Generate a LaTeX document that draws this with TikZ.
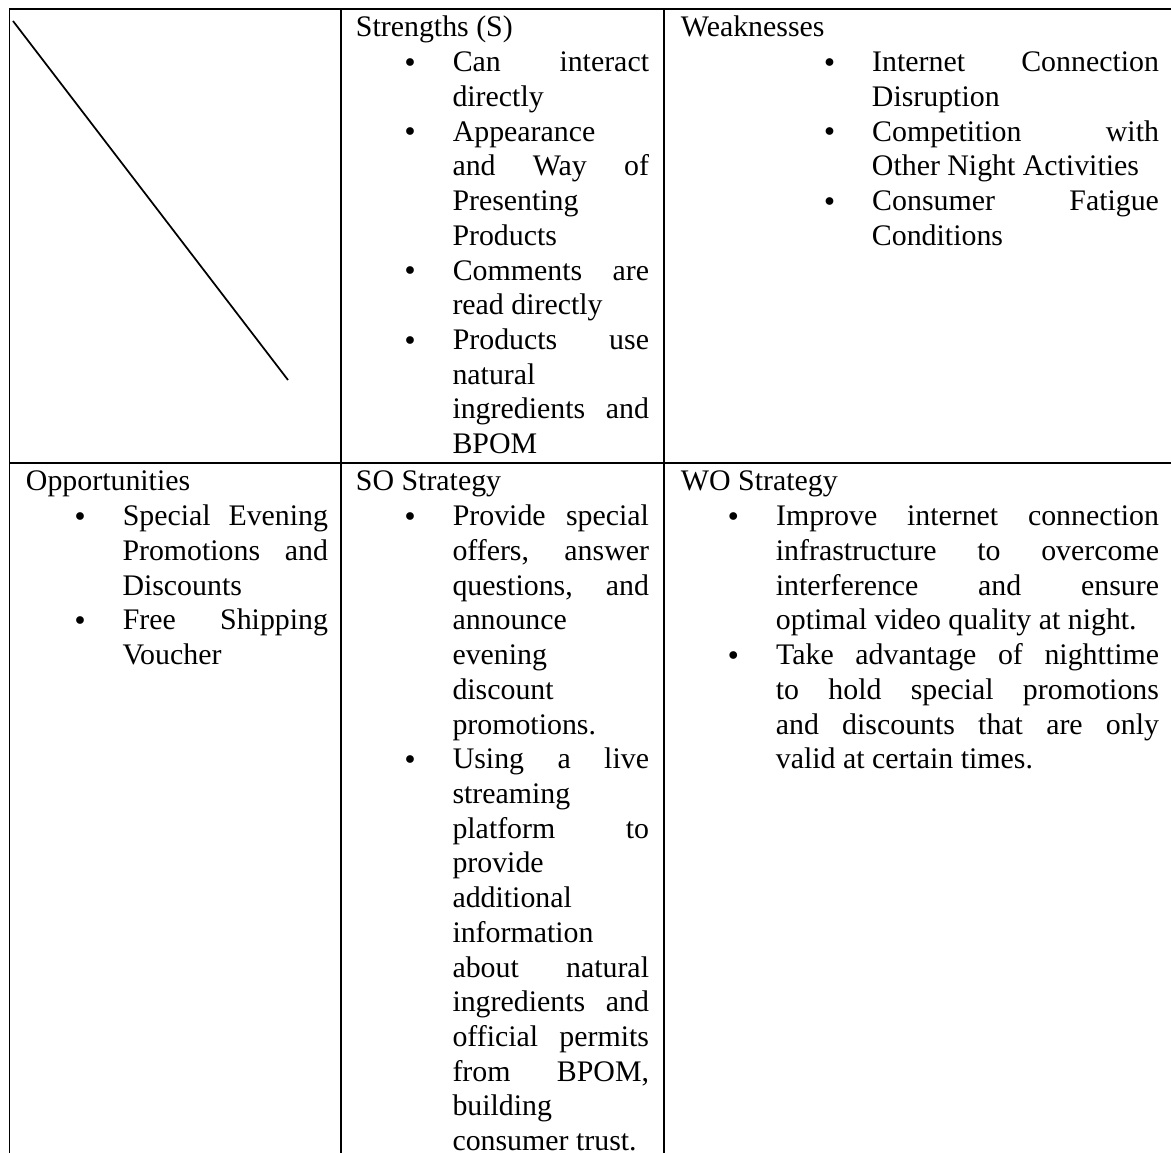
\documentclass[tikz,border=0pt]{standalone}
\usepackage{fontspec}
\setmainfont{Liberation Serif}[Scale=1.075]
\usepackage{graphicx}
\usetikzlibrary{positioning}
\newcommand{\blt}{\raisebox{1.8pt}{\scalebox{0.72}{$\bullet$}}}
\newcommand{\cellfont}{\fontsize{12}{15}\selectfont\tolerance=10000\relax\hyphenpenalty=10000\relax}
\newenvironment{swotlist}[1][41.7pt]{\begin{list}{\blt}{\setlength{\leftmargin}{#1}\setlength{\labelsep}{16.3pt}\setlength{\labelwidth}{4.2pt}%
  \setlength{\topsep}{0pt}\setlength{\partopsep}{0pt}\setlength{\itemsep}{0pt}\setlength{\parsep}{0pt}\setlength{\itemindent}{0pt}}}{\end{list}}
\tikzset{every path/.style={line width=0.85pt}, cell/.style={anchor=north west, inner sep=0pt, align=justify, font=\cellfont}}

\begin{document}
\begin{tikzpicture}[x=0.432pt, y=-0.432pt]
   \useasboundingbox (0,0) rectangle (1171,1153);
   % grid of the table (cut at right and bottom)
   \coordinate (tl) at (9.5,9);
   \coordinate (bl) at (9.5,1153);
   \coordinate (tr) at (1171,9);
   \coordinate (ml) at (9.5,463);
   \coordinate (mr) at (1171,463);
   \draw (bl) -- (tl) -- (tr);
   \draw (ml) -- (mr);
   \draw (341,9) -- (341,1153);
   \draw (664,9) -- (664,1153);
   \draw[line width=0.75pt] (13,21) -- (288,380);
   % first row
   \node[cell, text width=126.6pt] (s) at (355,11.7) {\strut Strengths (S)
     \begin{swotlist}
      \item Can interact\linebreak directly
      \item Appearance\linebreak and Way of\linebreak Presenting\linebreak Products
      \item Comments are\linebreak read directly
      \item Products use\linebreak natural\linebreak ingredients and\linebreak BPOM
     \end{swotlist}};
   \node[cell, text width=206.5pt] (w) at (680,11.7) {\strut Weaknesses
     \begin{swotlist}[82.5pt]
      \item Internet Connection\linebreak Disruption
      \item Competition with\linebreak Other Night Activities
      \item Consumer Fatigue\linebreak Conditions
     \end{swotlist}};
   % second row
   \node[cell, text width=130.5pt] (o) at (25,465.7) {\strut Opportunities
     \begin{swotlist}
      \item Special Evening\linebreak Promotions and\linebreak Discounts
      \item Free Shipping\linebreak Voucher
     \end{swotlist}};
   \node[cell, text width=126.6pt] (so) at (355,465.7) {\strut SO Strategy
     \begin{swotlist}
      \item Provide special\linebreak offers, answer\linebreak questions, and\linebreak announce\linebreak evening\linebreak discount\linebreak promotions.
      \item Using a live\linebreak streaming\linebreak platform to\linebreak provide\linebreak additional\linebreak information\linebreak about natural\linebreak ingredients and\linebreak official permits\linebreak from BPOM,\linebreak building\linebreak consumer trust.
     \end{swotlist}};
   \node[cell, text width=206.5pt] (wo) at (680,465.7) {\strut WO Strategy
     \begin{swotlist}[41pt]
      \item Improve internet connection\linebreak infrastructure to overcome\linebreak interference and ensure\linebreak optimal video quality at night.
      \item Take advantage of nighttime\linebreak to hold special promotions\linebreak and discounts that are only\linebreak valid at certain times.
     \end{swotlist}};
\end{tikzpicture}
\end{document}
